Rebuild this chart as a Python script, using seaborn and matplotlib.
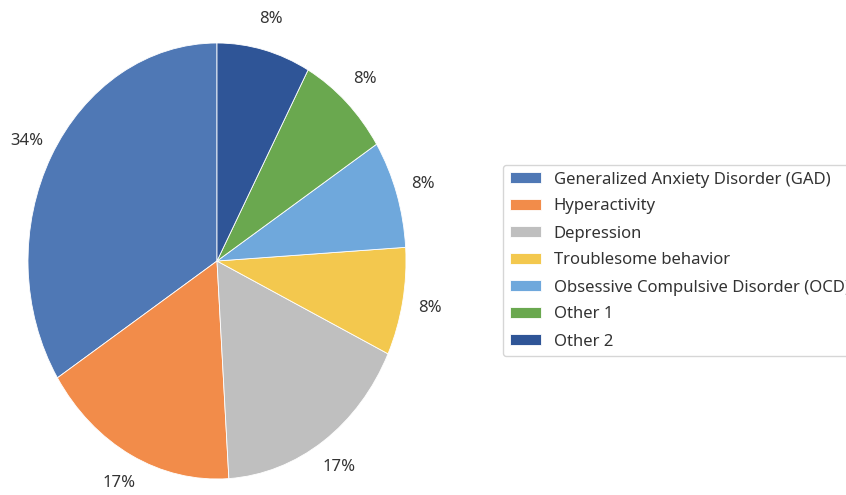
import matplotlib
matplotlib.use("Agg")
import matplotlib.pyplot as plt
import seaborn as sns

categories = ["Generalized Anxiety Disorder (GAD)", "Hyperactivity", "Depression",
              "Troublesome behavior", "Obsessive Compulsive Disorder (OCD)",
              "Other 1", "Other 2"]
values = [34, 17, 17, 8, 8, 8, 8]
colors = ["#4F78B5", "#F28C4A", "#BFBFBF", "#F3C84E", "#6FA8DC", "#6AA84F", "#2F5597"]

sns.set_style("white")
plt.rcParams["font.family"] = ["Noto Sans", "DejaVu Sans"]
palette = sns.color_palette(colors)

W, H = 846, 495
fig = plt.figure(figsize=(W / 100, H / 100), dpi=100)
cx, cy = 217, 495 - 261
rx, ry = 189, 218
xl, yl = 1.15, 1.1
ax = fig.add_axes([(cx - rx * xl) / W, (cy - ry * yl) / H, 2 * rx * xl / W, 2 * ry * yl / H])

wedges, texts, autotexts = ax.pie(
    values, colors=palette, startangle=90, counterclock=True,
    autopct="%.0f%%", pctdistance=1.145,
    wedgeprops=dict(edgecolor="white", linewidth=0.6),
    textprops=dict(color="#333333", fontsize=12),
)
ax.set_aspect("auto")
ax.set_xlim(-xl, xl)
ax.set_ylim(-yl, yl)
ax.axis("off")

leg = fig.legend(wedges, categories, loc="center left",
                 bbox_to_anchor=(503 / W, 1 - 260.5 / H), borderaxespad=0,
                 fontsize=12, frameon=True, labelcolor="#333333",
                 handlelength=1.9, handleheight=0.6, labelspacing=0.66,
                 handletextpad=0.75, borderpad=0.4)
leg.get_frame().set_edgecolor("#CCCCCC")

fig.savefig("out.png", dpi=100)
